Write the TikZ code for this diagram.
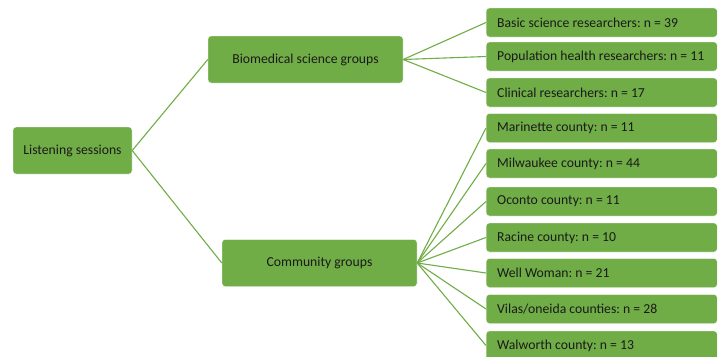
\documentclass[tikz,border=0pt]{standalone}
\usepackage{fontspec}
\setmainfont{Carlito}
\usepackage{tikz}
\usetikzlibrary{positioning}
\definecolor{boxgreen}{HTML}{70AD47}
\definecolor{boxtext}{HTML}{1A1A1A}
\frenchspacing

\begin{document}
\begin{tikzpicture}[
    x=1pt, y=-1pt,
    every node/.style={font=\fontsize{13.7}{16}\selectfont, text=boxtext},
    box/.style={draw=white, thin, fill=boxgreen, rounded corners=3pt, inner sep=0pt},
    parent/.style={box, minimum height=47pt, align=center},
    leaf/.style={box, anchor=west, minimum height=29pt, inner xsep=11pt},
    link/.style={boxgreen, line width=1.1pt}
  ]

    % Page size
    \useasboundingbox (0,0) rectangle (722,356);

    % Root and group boxes
    \node[parent, minimum width=119pt] (root) at (72.5,150.5) {Listening sessions};
    \node[parent, minimum width=195pt] (bio) at (305.5,59.5) {Biomedical science groups};
    \node[parent, minimum width=195pt] (comm) at (319.5,263) {Community groups};

    \draw[link] (root.east) -- (bio.west);
    \draw[link] (root.east) -- (comm.west);

    % Biomedical leaves
    \foreach \name/\yc/\label in {basic/22.5/{Basic science researchers: n = 39},
        pophealth/56.5/{Population health researchers: n = 11},
        clinical/92.5/{Clinical researchers: n = 17}} {
      \node[leaf] (\name) at (486,\yc) {\makebox[209pt][l]{\label}};
      \draw[link] (bio.east) -- (\name.west);
    }

    % Community leaves
    \foreach \name/\yc/\label in {marinette/128/{Marinette county: n = 11},
        milwaukee/163.5/{Milwaukee county: n = 44},
        oconto/201.5/{Oconto county: n = 11},
        racine/237.5/{Racine county: n = 10},
        wellwoman/273/{Well Woman: n = 21},
        vilas/309/{Vilas/oneida counties: n = 28},
        walworth/345.5/{Walworth county: n = 13}} {
      \node[leaf] (\name) at (486,\yc) {\makebox[209pt][l]{\label}};
      \draw[link] (comm.east) -- (\name.west);
    }

  \end{tikzpicture}
\end{document}
